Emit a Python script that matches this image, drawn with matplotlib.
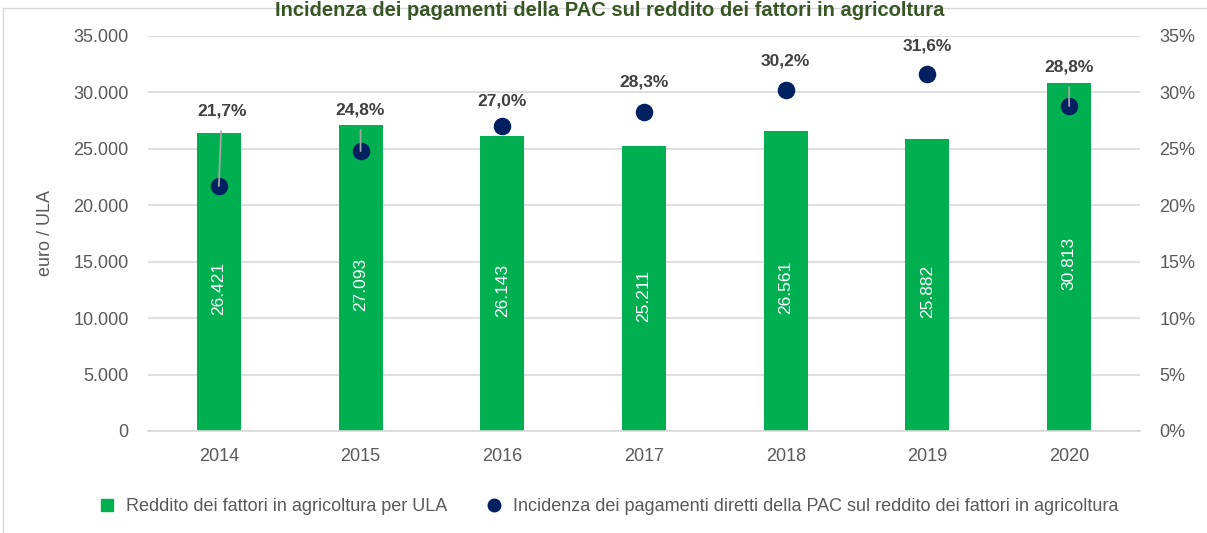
import matplotlib
matplotlib.use("Agg")
import matplotlib.pyplot as plt
from matplotlib.lines import Line2D
from matplotlib.ticker import FuncFormatter, MultipleLocator

plt.rcParams['font.family'] = ['Liberation Sans Narrow', 'Liberation Sans', 'DejaVu Sans']

anni = ["2014", "2015", "2016", "2017", "2018", "2019", "2020"]
reddito = [26421, 27093, 26143, 25211, 26561, 25882, 30813]
incidenza = [21.7, 24.8, 27.0, 28.3, 30.2, 31.6, 28.8]

# label offset above each dot (pixels); leader line where the label sits far off
label_dy = [75, 41, 25, 30, 29, 28, 39]
label_dx = [3, 0, 0, 0, 0, 0, 0]
leader = [True, True, False, False, False, False, True]

GREEN = "#00B050"
NAVY = "#002060"
GRID = "#D9D9D9"
TXT = "#595959"


def it_num(v, pos=None):
    return "{:,.0f}".format(v).replace(",", ".")


fig = plt.figure(figsize=(12.07, 5.33), dpi=100)
ax = fig.add_axes([0.1226, 0.1914, 0.8219, 0.7411])
ax2 = ax.twinx()

x = list(range(len(anni)))
ax.bar(x, reddito, width=0.31, color=GREEN, zorder=2)
for xi, v in zip(x, reddito):
    ax.text(xi, v / 2 - 600, it_num(v), rotation=90, ha="center", va="center",
            color="white", fontsize=12.5)

ax.set_ylim(0, 35000)
ax.set_xlim(-0.5, len(anni) - 0.5)
ax.yaxis.set_major_locator(MultipleLocator(5000))
ax.yaxis.set_major_formatter(FuncFormatter(it_num))
ax.set_xticks(x)
ax.set_xticklabels(anni)
ax.grid(axis="y", color=GRID, linewidth=1.2, zorder=0)
ax.set_axisbelow(True)
ax.set_ylabel("euro / ULA", color=TXT, fontsize=13, labelpad=14)

ax2.set_ylim(0, 35)
ax2.yaxis.set_major_locator(MultipleLocator(5))
ax2.yaxis.set_major_formatter(FuncFormatter(lambda v, p: "{:.0f}%".format(v)))
ax2.scatter(x, incidenza, s=135, color=NAVY, zorder=4)

for xi, v, dy, dx, ld in zip(x, incidenza, label_dy, label_dx, leader):
    lab = "{:.1f}%".format(v).replace(".", ",")
    ax2.annotate(lab, xy=(xi, v), xytext=(dx * 0.72, dy * 0.72),
                 textcoords="offset points", ha="center", va="center",
                 fontsize=12.5, fontweight="bold", color="#404040", zorder=5,
                 arrowprops=dict(arrowstyle="-", color="#A6A6A6", lw=1.3,
                                 shrinkA=7, shrinkB=0) if ld else None)

for a in (ax, ax2):
    for s in a.spines.values():
        s.set_visible(False)
    a.tick_params(length=0, labelsize=13, colors=TXT)
ax.tick_params(axis="x", pad=12)
ax.tick_params(axis="y", pad=14)
ax2.tick_params(axis="y", pad=14)
ax.spines["bottom"].set_visible(True)
ax.spines["bottom"].set_color(GRID)
ax.spines["bottom"].set_linewidth(1.2)

handles = [
    Line2D([], [], marker="s", linestyle="", color=GREEN, markersize=8),
    Line2D([], [], marker="o", linestyle="", color=NAVY, markersize=9),
]
labels = ["Reddito dei fattori in agricoltura per ULA",
          "Incidenza dei pagamenti diretti della PAC sul reddito dei fattori in agricoltura"]
fig.legend(handles, labels, loc="center", bbox_to_anchor=(0.5, 0.049), ncol=2,
           frameon=False, fontsize=13, handletextpad=0.05, columnspacing=1.6,
           labelcolor=TXT)

fig.text(0.505, 0.999, "Incidenza dei pagamenti della PAC sul reddito dei fattori in agricoltura",
         ha="center", va="top", fontsize=14.5, fontweight="bold", color="#375623")

fig.add_artist(Line2D([3 / 1207, 3 / 1207], [0, 1 - 8 / 533], color=GRID, lw=1))
fig.add_artist(Line2D([3 / 1207, 1], [1 - 8 / 533, 1 - 8 / 533], color=GRID, lw=1))

fig.savefig("out.png", dpi=100)
